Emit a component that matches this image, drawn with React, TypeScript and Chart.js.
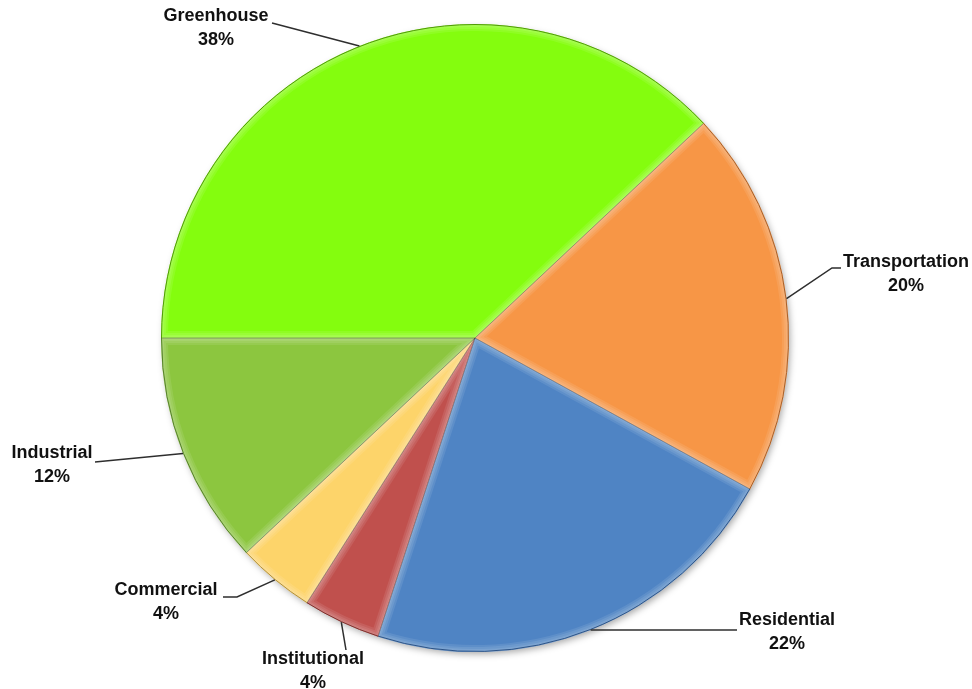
import React, { useEffect, useRef } from "react";
import { Chart, registerables } from "chart.js";

Chart.register(...registerables);

// ---- data ----
const categories = ["Greenhouse", "Transportation", "Residential", "Institutional", "Commercial", "Industrial"];
const shares = [38, 20, 22, 4, 4, 12];
const percentLabels = ["38%", "20%", "22%", "4%", "4%", "12%"];

// ---- styles ----
const sliceColors = ["#84fd0e", "#f79646", "#4f84c4", "#c0504d", "#fdd46a", "#8cc63f"];
const edgeColors = ["#4f9a06", "#a8602a", "#2d5487", "#7d2f2c", "#b08f3a", "#55802a"];

// label layout: text centre and elbow points, as offsets from the pie centre
const labelTextOffsets: [number, number][] = [
  [-259, -322],
  [431, -76],
  [312, 282],
  [-162, 321],
  [-309, 252],
  [-423, 115],
];
const leaderElbows: [number, number][][] = [
  [[-203, -315]],
  [[357, -70], [366, -70]],
  [[262, 292]],
  [[-129, 312]],
  [[-238, 259], [-252, 259]],
  [[-380, 124]],
];

const FONT = "bold 18px 'Liberation Sans', Arial, sans-serif";

const shadowPlugin = {
  id: "pieShadow",
  beforeDatasetsDraw(chart: any) {
    const meta = chart.getDatasetMeta(0);
    const a = meta.data[0];
    if (!a) return;
    const ctx = chart.ctx;
    ctx.save();
    ctx.beginPath();
    ctx.arc(a.x, a.y, a.outerRadius - 1, 0, Math.PI * 2);
    ctx.shadowColor = "rgba(0,0,0,0.35)";
    ctx.shadowBlur = 7;
    ctx.shadowOffsetX = 2;
    ctx.shadowOffsetY = 3;
    ctx.fillStyle = "#ffffff";
    ctx.fill();
    ctx.restore();
  },
};

const bevelPlugin = {
  id: "pieBevel",
  afterDatasetsDraw(chart: any) {
    const meta = chart.getDatasetMeta(0);
    const ctx = chart.ctx;
    meta.data.forEach((a: any) => {
      const path = () => {
        ctx.beginPath();
        ctx.moveTo(a.x, a.y);
        ctx.arc(a.x, a.y, a.outerRadius, a.startAngle, a.endAngle);
        ctx.closePath();
      };
      ctx.save();
      path();
      ctx.clip();
      ctx.lineJoin = "round";
      [14, 10, 6, 3].forEach((w) => {
        path();
        ctx.lineWidth = w;
        ctx.strokeStyle = "rgba(255,255,255,0.09)";
        ctx.stroke();
      });
      ctx.restore();
    });
    // thin dark separators and rims
    meta.data.forEach((a: any, i: number) => {
      ctx.save();
      ctx.beginPath();
      ctx.moveTo(a.x, a.y);
      ctx.lineTo(a.x + Math.cos(a.startAngle) * a.outerRadius, a.y + Math.sin(a.startAngle) * a.outerRadius);
      ctx.lineWidth = 1;
      ctx.strokeStyle = "rgba(40,40,40,0.4)";
      ctx.stroke();
      ctx.beginPath();
      ctx.arc(a.x, a.y, a.outerRadius - 0.5, a.startAngle, a.endAngle);
      ctx.strokeStyle = edgeColors[i];
      ctx.lineWidth = 1;
      ctx.stroke();
      ctx.restore();
    });
  },
};

const labelPlugin = {
  id: "leaderLabels",
  afterDraw(chart: any) {
    const meta = chart.getDatasetMeta(0);
    const ctx = chart.ctx;
    meta.data.forEach((a: any, i: number) => {
      const cx = a.x;
      const cy = a.y;
      const mid = (a.startAngle + a.endAngle) / 2;
      const sx = cx + Math.cos(mid) * a.outerRadius;
      const sy = cy + Math.sin(mid) * a.outerRadius;
      ctx.save();
      ctx.beginPath();
      ctx.moveTo(sx, sy);
      leaderElbows[i].forEach(([dx, dy]) => ctx.lineTo(cx + dx, cy + dy));
      ctx.strokeStyle = "#2e2e2e";
      ctx.lineWidth = 1.5;
      ctx.stroke();
      const [tx, ty] = labelTextOffsets[i];
      ctx.font = FONT;
      ctx.fillStyle = "#111111";
      ctx.textAlign = "center";
      ctx.textBaseline = "middle";
      ctx.fillText(categories[i], cx + tx, cy + ty);
      ctx.fillText(percentLabels[i], cx + tx, cy + ty + 24);
      ctx.restore();
    });
  },
};

export default function App() {
  const canvasRef = useRef<HTMLCanvasElement | null>(null);

  useEffect(() => {
    if (!canvasRef.current) return;
    const chart = new Chart(canvasRef.current, {
      type: "pie",
      data: {
        labels: categories,
        datasets: [
          {
            data: shares,
            backgroundColor: sliceColors,
            borderColor: edgeColors,
            borderWidth: 0,
          },
        ],
      },
      options: {
        responsive: false,
        animation: false,
        rotation: -90,
        layout: { padding: { top: 24, bottom: 37, left: 161, right: 183 } },
        plugins: {
          legend: { display: false },
          tooltip: { enabled: false },
        },
      },
      plugins: [shadowPlugin, bevelPlugin, labelPlugin],
    });
    return () => chart.destroy();
  }, []);

  return (
    <div style={{ position: "fixed", left: 0, top: 0, width: 972, height: 689, background: "#ffffff" }}>
      <canvas ref={canvasRef} width={972} height={689} style={{ display: "block" }} />
    </div>
  );
}
